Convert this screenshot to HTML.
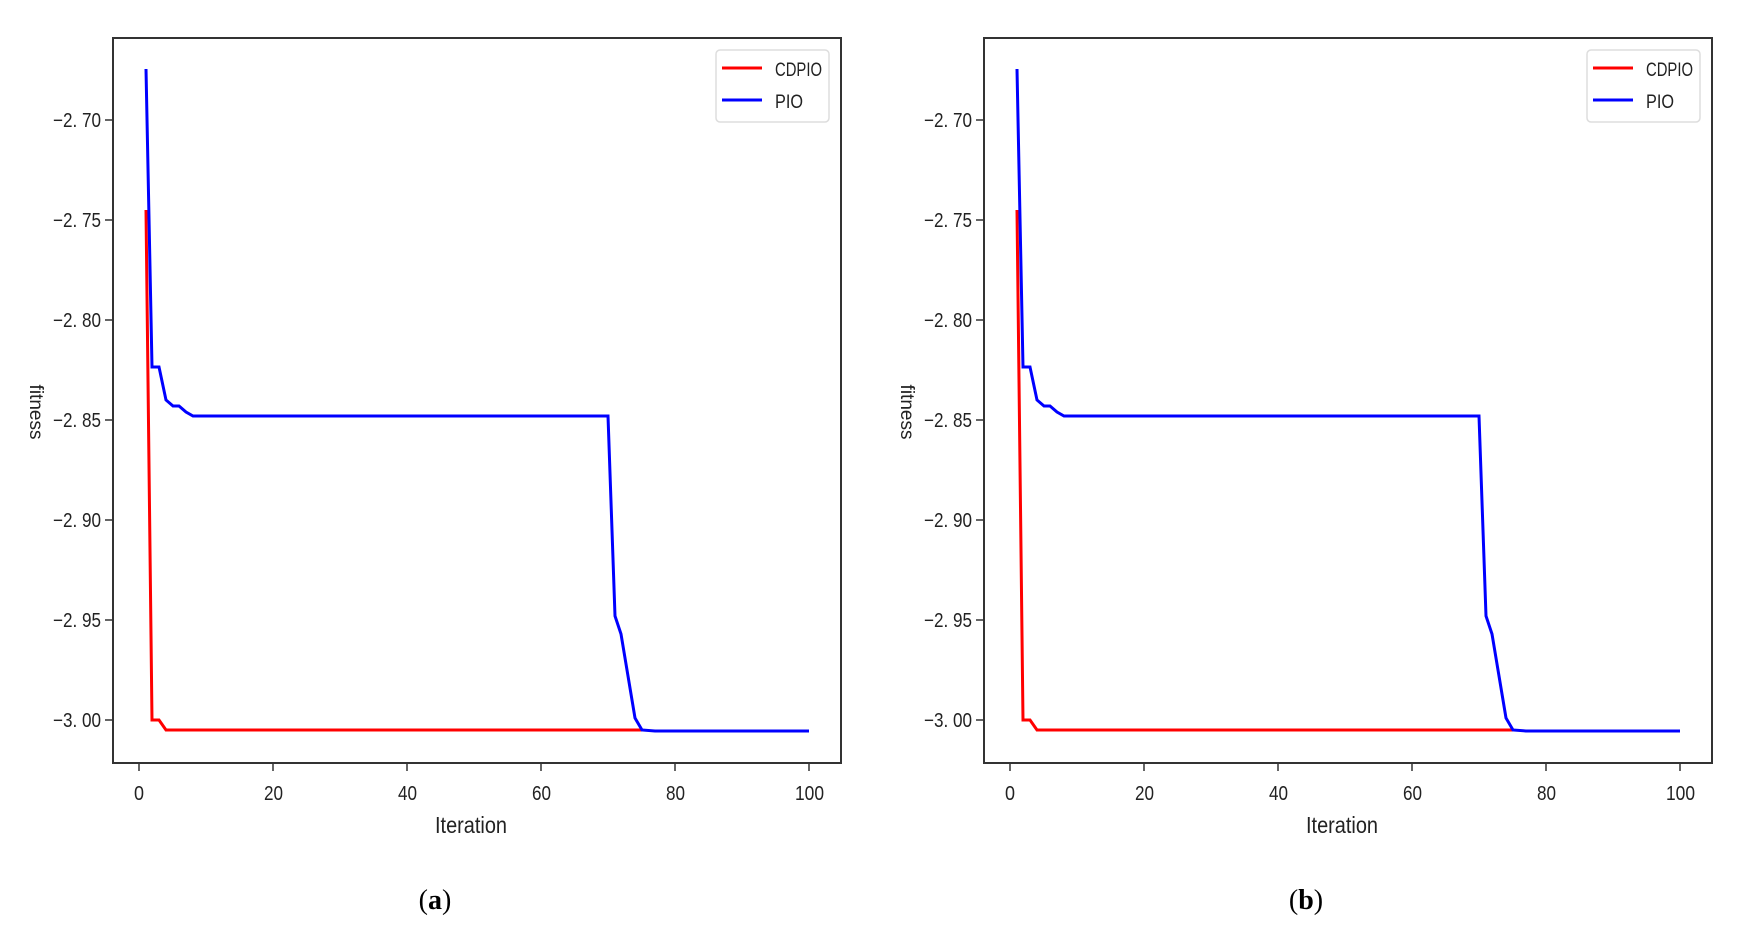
<!DOCTYPE html>
<html><head><meta charset="utf-8"><style>
html,body{margin:0;padding:0;background:#fff;}
svg{display:block;}
text{font-family:"Liberation Sans",sans-serif;fill:#222;}
text.serif{font-family:"Liberation Serif",serif;fill:#000;}
</style></head><body>
<svg width="1751" height="942" viewBox="0 0 1751 942" xmlns="http://www.w3.org/2000/svg">
<defs>
<g id="panel">
  <rect x="113" y="38" width="728" height="725" fill="none" stroke="#333" stroke-width="2"/>
  <g stroke="#333" stroke-width="1.5">
    <line x1="105" y1="120" x2="113" y2="120"/><line x1="105" y1="220" x2="113" y2="220"/>
    <line x1="105" y1="320" x2="113" y2="320"/><line x1="105" y1="420" x2="113" y2="420"/>
    <line x1="105" y1="520" x2="113" y2="520"/><line x1="105" y1="620" x2="113" y2="620"/>
    <line x1="105" y1="720" x2="113" y2="720"/>
    <line x1="139" y1="763" x2="139" y2="771"/><line x1="273" y1="763" x2="273" y2="771"/>
    <line x1="407" y1="763" x2="407" y2="771"/><line x1="541" y1="763" x2="541" y2="771"/>
    <line x1="675" y1="763" x2="675" y2="771"/><line x1="809" y1="763" x2="809" y2="771"/>
  </g>
  <g font-size="20">
    <text x="53" y="127" textLength="48" lengthAdjust="spacingAndGlyphs">−2. 70</text>
    <text x="53" y="227" textLength="48" lengthAdjust="spacingAndGlyphs">−2. 75</text>
    <text x="53" y="327" textLength="48" lengthAdjust="spacingAndGlyphs">−2. 80</text>
    <text x="53" y="427" textLength="48" lengthAdjust="spacingAndGlyphs">−2. 85</text>
    <text x="53" y="527" textLength="48" lengthAdjust="spacingAndGlyphs">−2. 90</text>
    <text x="53" y="627" textLength="48" lengthAdjust="spacingAndGlyphs">−2. 95</text>
    <text x="53" y="727" textLength="48" lengthAdjust="spacingAndGlyphs">−3. 00</text>
  </g>
  <g font-size="20">
    <text x="134" y="800" textLength="10" lengthAdjust="spacingAndGlyphs">0</text>
    <text x="264" y="800" textLength="19" lengthAdjust="spacingAndGlyphs">20</text>
    <text x="398" y="800" textLength="19" lengthAdjust="spacingAndGlyphs">40</text>
    <text x="532" y="800" textLength="19" lengthAdjust="spacingAndGlyphs">60</text>
    <text x="666" y="800" textLength="19" lengthAdjust="spacingAndGlyphs">80</text>
    <text x="795" y="800" textLength="29" lengthAdjust="spacingAndGlyphs">100</text>
    <text x="435" y="833" font-size="23" textLength="72" lengthAdjust="spacingAndGlyphs">Iteration</text>
  </g>
  <text x="0" y="0" font-size="19" text-anchor="middle" transform="translate(30,412) rotate(90)">fitness</text>
  <polyline fill="none" stroke="#ff0000" stroke-width="3" points="146,210 152,720 159,720 166,730 642,730"/>
  <polyline fill="none" stroke="#0000ff" stroke-width="3" points="146,69 152,367 159,367 166,400 173,406 179,406 186,412 193,416 200,416 608,416 615,616 621,634 628,676 635,718 642,730 655,731 809,731"/>
  <rect x="716" y="50" width="113" height="72" rx="4" fill="#fff" stroke="#ddd" stroke-width="1.5"/>
  <line x1="722" y1="68" x2="762" y2="68" stroke="#ff0000" stroke-width="3"/>
  <line x1="722" y1="100" x2="762" y2="100" stroke="#0000ff" stroke-width="3"/>
  <text x="775" y="76" font-size="19" textLength="47" lengthAdjust="spacingAndGlyphs">CDPIO</text>
  <text x="775" y="108" font-size="19" textLength="28" lengthAdjust="spacingAndGlyphs">PIO</text>
</g>
</defs>
<use href="#panel"/>
<use href="#panel" x="871"/>
<text class="serif" x="435" y="909" font-size="28" text-anchor="middle">(<tspan font-weight="bold">a</tspan>)</text>
<text class="serif" x="1306" y="909" font-size="28" text-anchor="middle">(<tspan font-weight="bold">b</tspan>)</text>
</svg>
</body></html>
